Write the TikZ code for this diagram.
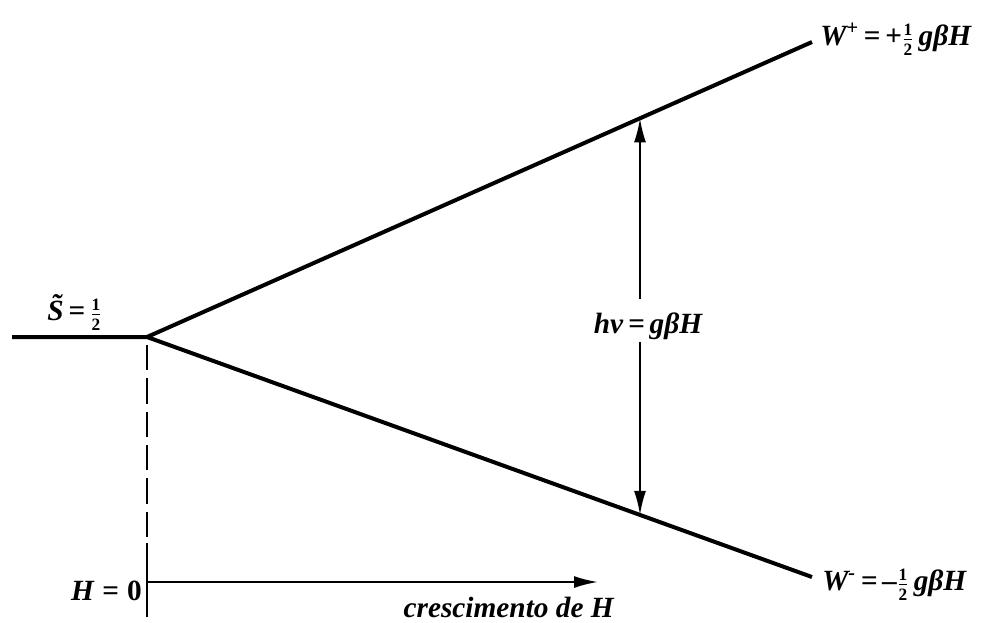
\documentclass[tikz,border=0pt]{standalone}
\usepackage{amsmath}
\usepackage{fontspec}
\setmainfont{Liberation Serif}
\usetikzlibrary{arrows.meta,calc}
\newcommand{\hfdig}[1]{\mbox{\fontsize{13}{13}\selectfont\bfseries\upshape #1}}
\newcommand{\hf}{\raisebox{-0.1ex}{$\genfrac{}{}{0.9pt}{}{\hfdig{1}}{\hfdig{2}}$}}
\tikzset{
  lvl/.style={line width=3pt},
  axis/.style={line width=2pt},
  lbl/.style={font=\fontsize{22}{24}\selectfont\bfseries\itshape, inner sep=0pt},
  tip/.style={-{Latex[length=18pt,width=9pt]}, line width=1.6pt}
}
\begin{document}
\begin{tikzpicture}[x=0.75pt,y=-0.75pt]
\useasboundingbox (0,0) rectangle (998,622);
\coordinate (L) at (12,337);
\coordinate (O) at (147,337);
\coordinate (U) at (812,42);
\coordinate (D) at (812,577);
\coordinate (Up) at ($(O)!{(640-147)/(812-147)}!(U)$);
\coordinate (Dn) at ($(O)!{(640-147)/(812-147)}!(D)$);
\draw[lvl] (L) -- (O) -- (U);
\draw[lvl] (O) -- (D);
\coordinate (V1) at (147,345);
\coordinate (V2) at (147,543);
\coordinate (V3) at (147,617);
\draw[axis, dash pattern=on 19pt off 6pt] (V1) -- (V2);
\draw[axis] (V2) -- (V3);
\coordinate (A0) at (147,582);
\coordinate (A1) at (598,582);
\draw[tip] (A0) -- (A1);
\node[lbl, anchor=base east] (h0) at (142,600) {H\;=\;\upshape 0};
\node[lbl, anchor=base east] (cr) at (614,617) {crescimento de H};
\node[lbl, anchor=base west] (S) at (47,320) {\~{S}\,=\,\hf};
\node[lbl, anchor=base west] (Wp) at (820,45) {W\textsuperscript{+}\,=\,+\hf\,gβH};
\node[lbl, anchor=base west] (Wm) at (822,590) {W\textsuperscript{-}\,=\,--\hf\,gβH};
\node[lbl, inner sep=2pt, anchor=base] (hv) at (648,333) {hν\,=\,gβH};
\draw[tip] ([yshift=8pt]hv.north -| Up) -- (Up);
\draw[tip] (hv.south -| Dn) -- (Dn);
\end{tikzpicture}
\end{document}
